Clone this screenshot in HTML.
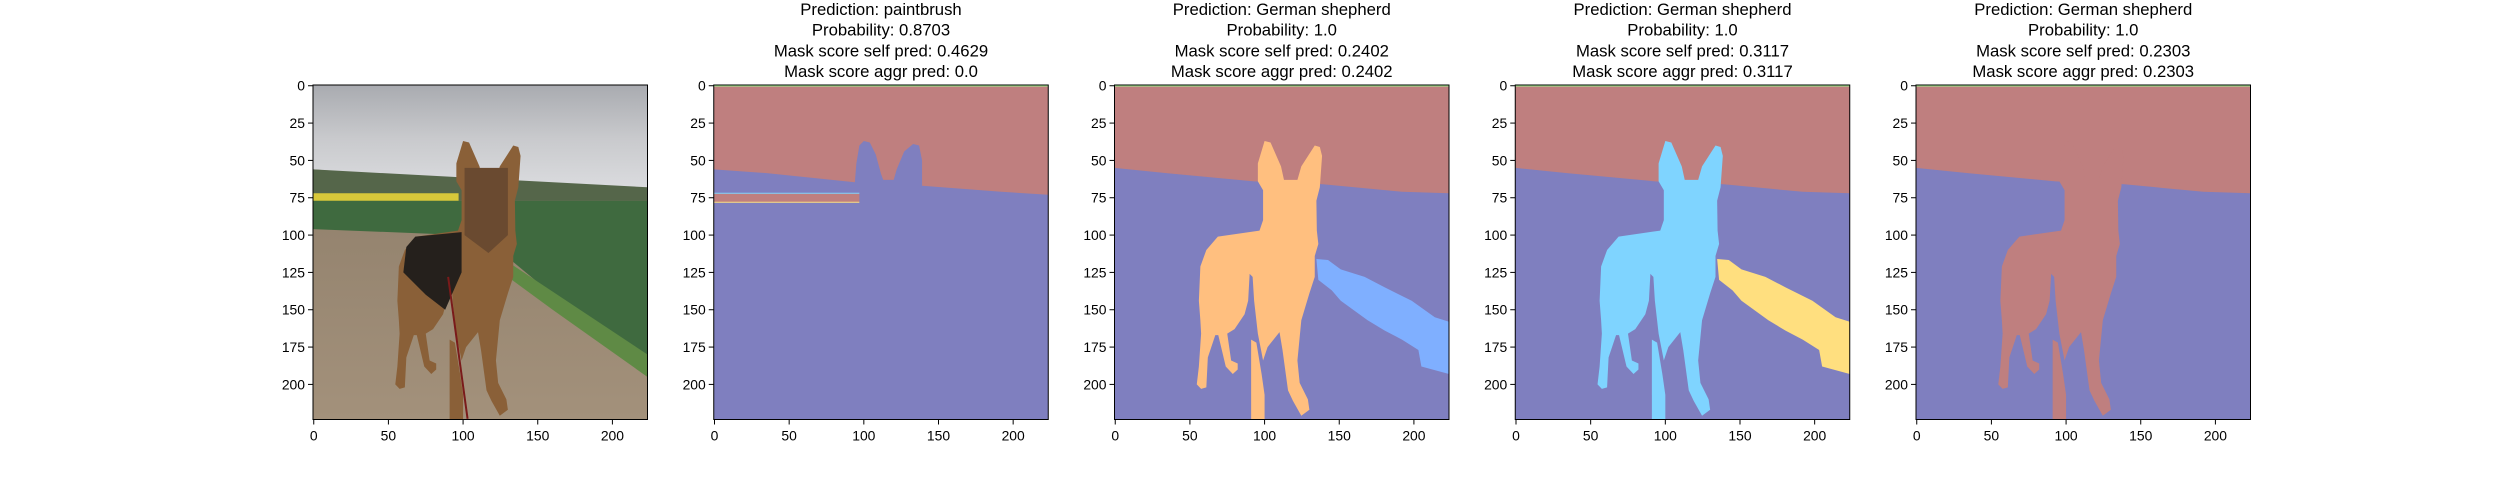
<!DOCTYPE html>
<html><head><meta charset="utf-8"><style>
html,body{margin:0;padding:0;background:#fff;width:2500px;height:500px;overflow:hidden}
svg{display:block}
text{font-family:"Liberation Sans","DejaVu Sans",sans-serif;fill:#000}
</style></head><body>
<svg id="fig" width="2500" height="500" viewBox="0 0 2500 500" xmlns="http://www.w3.org/2000/svg"></svg>
<script>
const panelTitles=[
 [],
 ["Prediction: paintbrush","Probability: 0.8703","Mask score self pred: 0.4629","Mask score aggr pred: 0.0"],
 ["Prediction: German shepherd","Probability: 1.0","Mask score self pred: 0.2402","Mask score aggr pred: 0.2402"],
 ["Prediction: German shepherd","Probability: 1.0","Mask score self pred: 0.3117","Mask score aggr pred: 0.3117"],
 ["Prediction: German shepherd","Probability: 1.0","Mask score self pred: 0.2303","Mask score aggr pred: 0.2303"]
];
const xTicks=[0,50,100,150,200];
const yTicks=[0,25,50,75,100,125,150,175,200];
const dogOutline=[[100,37],[95.5,52],[95.5,64],[99,70],[99,90],[96.6,97],[68.7,101],[61,110],[57,121],[56,144],[57,157],[57.5,166],[56,188],[54.6,200],[57.5,203],[61,202],[62,182],[67,167],[69,167],[74,188],[78.7,193],[82,190],[82,186],[77.6,184],[75,166],[79.9,163],[86.6,153],[89,144],[90,126],[92,128],[93,144],[95.5,166],[99,184],[102,175],[110,165],[112,177],[115.7,204],[119,211],[124.6,221],[130,217],[129,210],[123.5,199],[122,184],[124.6,157],[130,139],[133.6,128],[133.6,114],[136,106],[135,97],[134.7,77],[137,68],[138.5,47],[137,41],[133.6,40],[124.6,54],[122,63],[113,63],[111,54],[104,38]];
const dogLeg=[[91,170],[91,223.5],[100,223.5],[100,207],[98,193],[94.5,172]];
const pathRegion=[[134.7,116],[142.5,116.7],[151,123],[167,128],[180.5,135],[198.5,144],[214,155],[223.5,158],[223.5,193],[205,188],[203,177],[192,170],[180.5,164],[169,157],[151,144],[145,137],[136,130]];
const horizon=[[-0.5,55],[35,58.6],[93,64],[139,66],[192,71],[223.5,72]];
const brushSky=[[-0.5,56],[35,58.5],[94,64.6],[95,52],[97,40],[100,37],[104,38],[108,46],[111.5,59],[113,63],[120,63],[122,56],[127,44],[133,39],[137,40],[139,50],[139,67],[192,71],[223.5,73],[223.5,-0.5],[-0.5,-0.5]];
const brushStripe=[[-0.5,72],[97,72],[97,78],[-0.5,78]];
const panelColors=[
 null,
 {dog:null,path:null},
 {dog:"#ffbf7f",path:"#7fafff"},
 {dog:"#7fd4ff",path:"#ffdf7f"},
 {dog:"#bf7f7f",path:null}
];
const SKY="#bf7f7f",GROUND="#7f7fbf";
const svg=document.getElementById('fig');
const NS="http://www.w3.org/2000/svg";
const AX0=313,DX=400.75,TOP=85,SIZE=334.5,SC=SIZE/224;
function mk(tag,attrs,parent){const e=document.createElementNS(NS,tag);for(const k in attrs)e.setAttribute(k,attrs[k]);(parent||svg).appendChild(e);return e;}
function sx(i,v){return AX0+i*DX+(v+0.5)*SC;}
function sy(v){return TOP+(v+0.5)*SC;}
function pts(i,arr){return arr.map(p=>sx(i,p[0]).toFixed(2)+","+sy(p[1]).toFixed(2)).join(" ");}
function poly(i,arr,fill,name,g){const e=mk('polygon',{points:pts(i,arr),fill:fill},g);


return e;}
const defs=mk('defs',{});
defs.innerHTML='<linearGradient id="skyG" x1="0" y1="0" x2="0" y2="1"><stop offset="0" stop-color="#a9abb0"/><stop offset="0.5" stop-color="#c9cacd"/><stop offset="1" stop-color="#dcdde0"/></linearGradient><linearGradient id="dirtG" x1="0" y1="0" x2="0" y2="1"><stop offset="0" stop-color="#8a7a66"/><stop offset="1" stop-color="#a3917b"/></linearGradient>';
for(let i=0;i<5;i++){
  const g=mk('g',{});
  
  
  const x0=AX0+i*DX;
  const clipId='clip'+i;
  const cp=mk('clipPath',{id:clipId},defs);mk('rect',{x:x0,y:TOP,width:SIZE,height:SIZE},cp);
  const img=mk('g',{'clip-path':'url(#'+clipId+')'},g);
  
  
  if(i===0){
    mk('rect',{x:x0,y:TOP,width:SIZE,height:SIZE,fill:'url(#dirtG)'},img);
    poly(i,[[-0.5,-0.5],[223.5,-0.5],[223.5,72],[-0.5,56]],'url(#skyG)','sky',img);
    poly(i,[[-0.5,56],[223.5,68],[223.5,77],[-0.5,77]],'#55664a','tree-line',img);
    poly(i,[[-0.5,72],[97,72],[97,78],[-0.5,78]],'#d8c83a','rapeseed-field',img);
    poly(i,[[-0.5,77],[223.5,77],[223.5,190],[200,175],[160,140],[130,115],[100,100],[-0.5,96]],'#3f6a3f','crop-field',img);
    poly(i,[[130,118],[223.5,180],[223.5,195],[160,150],[130,128]],'#5f8a45','grass-verge',img);
    poly(i,dogOutline,'#8a6038','dog',img);
    poly(i,[[68,101],[99,98],[99,125],[88,150],[75,140],[60,125],[62,108]],'#25201c','dog-saddle',img);
    poly(i,[[101,55],[130,55],[130,100],[117,112],[101,100]],'#6a4a30','dog-face',img);
    poly(i,dogLeg,'#8a6038','dog-leg',img);
    mk('line',{x1:sx(i,90),y1:sy(128),x2:sx(i,103),y2:sy(223),stroke:'#7a1a1a','stroke-width':2},img);
  } else {
    mk('rect',{x:x0,y:TOP,width:SIZE,height:SIZE,fill:GROUND},img);
    const c=panelColors[i];
    if(i===1){
      poly(i,brushSky,SKY,'sky-region',img);
      poly(i,brushStripe,SKY,'stripe-region',img);
      mk('line',{x1:sx(i,-0.5),y1:sy(72),x2:sx(i,97),y2:sy(72),stroke:'#7fd4ff','stroke-width':1},img);
      mk('line',{x1:sx(i,-0.5),y1:sy(78),x2:sx(i,97),y2:sy(78),stroke:'#ffdf7f','stroke-width':1},img);
    } else {
      poly(i,horizon.concat([[223.5,-0.5],[-0.5,-0.5]]),SKY,'sky-region',img);
      if(c.path)poly(i,pathRegion,c.path,'path-region',img);
      poly(i,dogOutline,c.dog,'dog-region',img);
      poly(i,dogLeg,c.dog,'dog-leg-region',img);
    }
    mk('line',{x1:x0,y1:TOP+0.8,x2:x0+SIZE,y2:TOP+0.8,stroke:'#9fef8f','stroke-width':1.5},img);
  }
  const fr=mk('rect',{x:x0,y:TOP,width:SIZE,height:SIZE,fill:'none',stroke:'#000','stroke-width':1},g);
  
  
  xTicks.forEach(v=>{const X=sx(i,v);
    mk('line',{x1:X,y1:TOP+SIZE,x2:X,y2:TOP+SIZE+5,stroke:'#000','stroke-width':1},g);
    const t=mk('text',{x:X,y:TOP+SIZE+21,'font-size':'13.9','text-anchor':'middle'},g);t.textContent=v;
    
    });
  yTicks.forEach(v=>{const Y=sy(v);
    mk('line',{x1:x0-5,y1:Y,x2:x0,y2:Y,stroke:'#000','stroke-width':1},g);
    const t=mk('text',{x:x0-8,y:Y+5,'font-size':'13.9','text-anchor':'end'},g);t.textContent=v;
    
    });
  panelTitles[i].forEach((s,k)=>{
    const t=mk('text',{x:x0+SIZE/2,y:15+k*20.7,'font-size':'16.7','text-anchor':'middle'},g);t.textContent=s;
    
    });
}
</script>
</body></html>
